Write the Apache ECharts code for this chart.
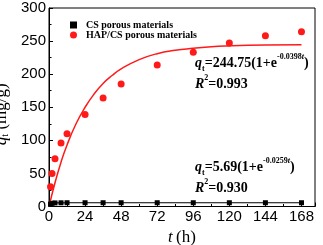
<!DOCTYPE html>
<html><head><meta charset="utf-8">
<script src="https://cdn.jsdelivr.net/npm/echarts@6/dist/echarts.min.js"></script>
<style>html,body{margin:0;padding:0;background:#fff}#c{width:323px;height:245px}</style>
</head><body><div id="c"></div>
<script>
const xTicks = [0, 24, 48, 72, 96, 120, 144, 168];
const yTicks = [0, 50, 100, 150, 200, 250, 300];
const csTime = [0, 1, 2, 4, 8, 12, 24, 36, 48, 72, 96, 120, 144, 168];
const csValues = [0, 3.6, 4.8, 5.4, 5.6, 5.7, 5.7, 5.7, 5.7, 5.7, 5.7, 5.7, 5.7, 5.7];
const hapTime = [1, 2, 4, 8, 12, 24, 36, 48, 72, 96, 120, 144, 168];
const hapValues = [30, 50, 72, 96, 110, 139, 164, 185, 214, 233, 247, 258, 264];
const fitTime = [0, 4, 8, 12, 18, 24, 30, 36, 42, 48, 60, 72, 84, 96, 108, 120, 144, 168];
const fitValues = [0, 36, 67, 93, 125, 150, 170, 186, 198, 208, 222, 231, 236, 239, 241.5, 242.7, 244, 244.5];

const serif = 'Liberation Serif';
const sans = 'Liberation Sans';
const pair = (a, b) => a.map((t, i) => [t, b[i]]);

const eqRich = {
  q: {fontFamily: serif, fontStyle: 'italic', fontWeight: 'bold', fontSize: 14, lineHeight: 20, fill: '#000'},
  sub: {fontFamily: serif, fontWeight: 'bold', fontSize: 8, lineHeight: 20, verticalAlign: 'bottom', fill: '#000'},
  n: {fontFamily: serif, fontWeight: 'bold', fontSize: 14, lineHeight: 20, fill: '#000'},
  sup: {fontFamily: serif, fontWeight: 'bold', fontSize: 8, lineHeight: 20, verticalAlign: 'top', fill: '#000'},
  supi: {fontFamily: serif, fontWeight: 'bold', fontStyle: 'italic', fontSize: 8, lineHeight: 20, verticalAlign: 'top', fill: '#000'}
};

const chart = echarts.init(document.getElementById('c'), null, {renderer: 'canvas'});
chart.setOption({
  animation: false,
  backgroundColor: '#fff',
  grid: {left: 49, right: 8, top: 8, bottom: 38.5, show: true, borderColor: '#000', borderWidth: 1,
    containLabel: false, outerBoundsMode: 'none'},
  legend: {
    orient: 'vertical', left: 65, top: 14, itemGap: -2, itemWidth: 7, itemHeight: 7,
    textStyle: {fontFamily: serif, fontWeight: 'bold', fontSize: 10, color: '#000', padding: [0, 0, 0, 4], lineHeight: 12},
    data: [{name: 'CS porous materials', icon: 'rect'}, {name: 'HAP/CS porous materials', icon: 'circle'}]
  },
  xAxis: {
    type: 'value', min: 0, max: 177, interval: 24,
    name: '{t|t} {n|(h)}', nameLocation: 'middle', nameGap: 12,
    nameTextStyle: {rich: {
      t: {fontFamily: serif, fontStyle: 'italic', fontSize: 17, color: '#000'},
      n: {fontFamily: serif, fontSize: 17, color: '#000'}
    }},
    axisLine: {lineStyle: {color: '#000', width: 1}},
    axisTick: {inside: true, length: 4, lineStyle: {color: '#000'}},
    minorTick: {show: true, splitNumber: 2, length: 2.5, lineStyle: {color: '#000'}},
    splitLine: {show: false},
    axisLabel: {fontFamily: sans, fontSize: 15, color: '#000', margin: 3, showMaxLabel: false,
      formatter: v => xTicks.includes(v) ? String(v) : ''}
  },
  yAxis: {
    type: 'value', min: 0, max: 300, interval: 50,
    name: '{q|q}{s|t}{n| (mg/g)}', nameLocation: 'middle', nameGap: 31,
    nameTextStyle: {padding: [0, 14, 0, 0], rich: {
      q: {fontFamily: serif, fontStyle: 'italic', fontSize: 17, color: '#000', lineHeight: 17},
      s: {fontFamily: serif, fontSize: 10, color: '#000', lineHeight: 17, verticalAlign: 'bottom'},
      n: {fontFamily: serif, fontSize: 17, color: '#000', lineHeight: 17}
    }},
    axisLine: {lineStyle: {color: '#000', width: 1}},
    axisTick: {inside: true, length: 4, lineStyle: {color: '#000'}},
    minorTick: {show: true, splitNumber: 2, length: 2.5, lineStyle: {color: '#000'}},
    splitLine: {show: false},
    axisLabel: {fontFamily: sans, fontSize: 15, color: '#000', margin: 3,
      formatter: v => yTicks.includes(v) ? String(v) : ''}
  },
  series: [
    {name: 'HAP/CS fit', type: 'line', smooth: true, showSymbol: false, data: pair(fitTime, fitValues),
     lineStyle: {color: '#ff1a1a', width: 1.5}, itemStyle: {color: '#ff1a1a'}, z: 2},
    {name: 'HAP/CS porous materials', type: 'scatter', symbol: 'circle', symbolSize: 7,
     data: pair(hapTime, hapValues), itemStyle: {color: '#ff1a1a', opacity: 1}, z: 3},
    {name: 'CS porous materials', type: 'line', symbol: 'rect', symbolSize: 5, showAllSymbol: true,
     data: pair(csTime, csValues).map((d, i) => i === 0 ? {value: d, symbol: 'none'} : d),
     lineStyle: {color: '#000', width: 1.2}, itemStyle: {color: '#000'}, z: 4}
  ],
  graphic: [
    {type: 'text', left: 195, top: 53, style: {text: '{q|q}{sub|t}{n|=244.75(1+e}{sup|-0.0398}{supi|t}{n|)}', rich: eqRich}},
    {type: 'text', left: 195, top: 74, style: {text: '{q|R}{sup|2}{n|=0.993}', rich: eqRich}},
    {type: 'text', left: 195, top: 157, style: {text: '{q|q}{sub|t}{n|=5.69(1+e}{sup|-0.0259}{supi|t}{n|)}', rich: eqRich}},
    {type: 'text', left: 195, top: 178, style: {text: '{q|R}{sup|2}{n|=0.930}', rich: eqRich}}
  ]
});
</script></body></html>
